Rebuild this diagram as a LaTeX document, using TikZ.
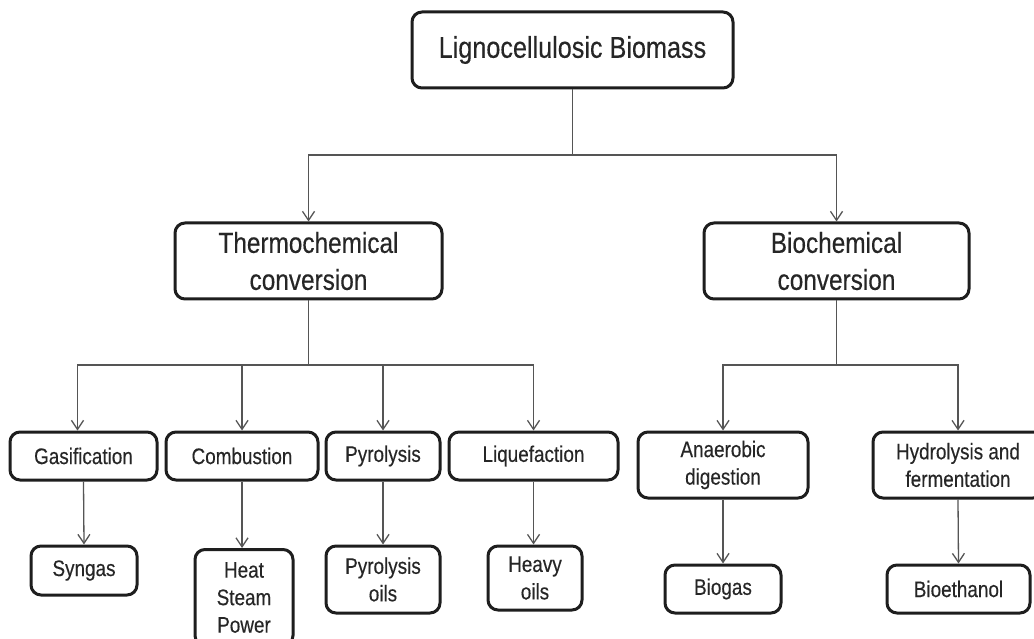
\documentclass[tikz,border=0pt]{standalone}
\usepackage{fontspec}
\setmainfont{Liberation Sans}[FakeStretch=0.84,FakeBold=0.3]
\usetikzlibrary{arrows.meta}
\definecolor{linegray}{HTML}{555555}
\definecolor{boxblack}{HTML}{1E1E1E}
\definecolor{textgray}{HTML}{262626}
\begin{document}
\begin{tikzpicture}[x=1pt,y=-1pt,
  box/.style={draw=boxblack,line width=3pt,rounded corners=10pt,fill=white,
    align=center,inner sep=0pt,text=textgray},
  big/.style={box,font=\fontsize{30}{36}\selectfont},
  mid/.style={box,font=\fontsize{29}{37}\selectfont},
  small/.style={box,font=\fontsize{22.5}{27.5}\selectfont},
  conn/.style={draw=linegray,line width=1.3pt},
  arr/.style={conn,-{Straight Barb[length=9pt,width=12pt,line width=1.3pt]}}]
\useasboundingbox (0,0) rectangle (1034,639);
\fill[white] (0,0) rectangle (1034,639);

% top level
\node[big,minimum width=321pt,minimum height=76pt] (top) at (572.5,50) {Lignocellulosic Biomass};
\node[mid,minimum width=267pt,minimum height=76pt] (thermo) at (308.5,261) {Thermochemical\\conversion};
\node[mid,minimum width=265pt,minimum height=76pt] (bio) at (836.5,261) {Biochemical\\conversion};

% processes
\node[small,minimum width=147pt,minimum height=48pt] (gas) at (83.5,456) {Gasification};
\node[small,minimum width=152pt,minimum height=48pt] (comb) at (242,456) {Combustion};
\node[small,minimum width=114pt,minimum height=48pt] (pyro) at (383,456) {Pyrolysis};
\node[small,minimum width=169pt,minimum height=48pt] (liq) at (533.5,456) {Liquefaction};
\node[small,minimum width=170pt,minimum height=66pt] (anae) at (723,465) {Anaerobic\\digestion};
\node[small,minimum width=170pt,minimum height=66pt] (hydro) at (958,465) {Hydrolysis and\\fermentation};

% products
\node[small,minimum width=106pt,minimum height=49pt] (syn) at (84,570.5) {Syngas};
\node[small,minimum width=98pt,minimum height=96pt,anchor=north] (heat) at (244,548) {Heat\\Steam\\Power};
\node[small,minimum width=114pt,minimum height=67pt] (pyoil) at (383,579.5) {Pyrolysis\\oils};
\node[small,minimum width=94pt,minimum height=64pt] (heavy) at (535,578) {Heavy\\oils};
\node[small,minimum width=116pt,minimum height=48pt] (biogas) at (723,589) {Biogas};
\node[small,minimum width=143pt,minimum height=48pt] (bioeth) at (958.5,589) {Bioethanol};

% hub points
\coordinate (h1) at (572.5,155);
\coordinate (h2) at (308.5,365);
\coordinate (h3) at (836.5,365);

% connectors level 1
\draw[conn] (top.south) -- (h1);
\draw[arr] (h1) -| (thermo.north);
\draw[arr] (h1) -| (bio.north);

% connectors level 2
\draw[conn] (thermo.south) -- (h2);
\draw[arr] (h2) -| ([xshift=-6pt]gas.north);
\draw[arr] (h2) -| (comb.north);
\draw[arr] (h2) -| (pyro.north);
\draw[arr] (h2) -| (liq.north);
\draw[conn] (bio.south) -- (h3);
\draw[arr] (h3) -| (anae.north);
\draw[arr] (h3) -| (hydro.north);

% connectors level 3
\draw[arr] (gas.south) -- (syn.north);
\draw[arr] (comb.south) -- (comb.south |- heat.north);
\draw[arr] (pyro.south) -- (pyoil.north);
\draw[arr] (liq.south) -- (liq.south |- heavy.north);
\draw[arr] (anae.south) -- (biogas.north);
\draw[arr] (hydro.south) -- (bioeth.north);
\end{tikzpicture}
\end{document}
